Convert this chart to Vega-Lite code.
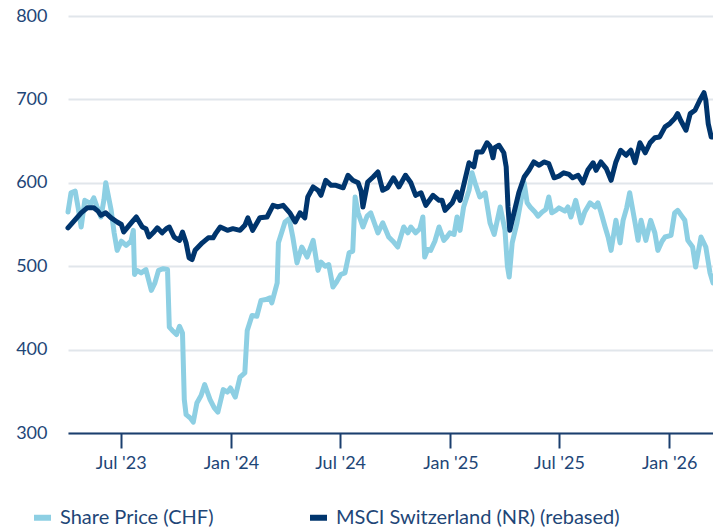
{
  "$schema": "https://vega.github.io/schema/vega-lite/v6.json",
  "width": 645,
  "height": 417,
  "autosize": {"type": "none"},
  "padding": {"left": 68, "top": 16, "right": 0, "bottom": 95},
  "background": "white",
  "config": {
    "view": {"stroke": null},
    "font": "Lato",
    "axis": {"labelFont": "Lato", "labelColor": "#1e4677", "labelFontSize": 18, "titleFont": "Lato"},
    "legend": {"labelFont": "Lato"}
  },
  "datasets": {
    "share": [
      {"d":"2023-04-04","v":565},{"d":"2023-04-09","v":588},{"d":"2023-04-16","v":590},{"d":"2023-04-21","v":570},
      {"d":"2023-04-26","v":547},{"d":"2023-05-02","v":579},{"d":"2023-05-12","v":575},{"d":"2023-05-17","v":582},
      {"d":"2023-05-22","v":572},{"d":"2023-05-29","v":559},{"d":"2023-06-03","v":580},{"d":"2023-06-06","v":600},
      {"d":"2023-06-15","v":567},{"d":"2023-06-20","v":540},{"d":"2023-06-25","v":519},{"d":"2023-07-02","v":530},
      {"d":"2023-07-10","v":525},{"d":"2023-07-18","v":530},{"d":"2023-07-22","v":543},{"d":"2023-07-24","v":490},
      {"d":"2023-07-28","v":495},{"d":"2023-08-04","v":492},{"d":"2023-08-12","v":496},{"d":"2023-08-21","v":471},
      {"d":"2023-08-27","v":480},{"d":"2023-09-02","v":495},{"d":"2023-09-10","v":497},{"d":"2023-09-17","v":496},
      {"d":"2023-09-20","v":427},{"d":"2023-09-25","v":423},{"d":"2023-10-02","v":418},{"d":"2023-10-07","v":428},
      {"d":"2023-10-12","v":420},{"d":"2023-10-15","v":340},{"d":"2023-10-18","v":322},{"d":"2023-10-25","v":318},
      {"d":"2023-10-30","v":313},{"d":"2023-11-05","v":336},{"d":"2023-11-12","v":345},{"d":"2023-11-18","v":358},
      {"d":"2023-11-27","v":340},{"d":"2023-12-04","v":330},{"d":"2023-12-10","v":325},{"d":"2023-12-19","v":352},
      {"d":"2023-12-26","v":349},{"d":"2023-12-31","v":354},{"d":"2024-01-08","v":343},{"d":"2024-01-16","v":367},
      {"d":"2024-01-24","v":372},{"d":"2024-01-28","v":423},{"d":"2024-02-05","v":441},{"d":"2024-02-13","v":440},
      {"d":"2024-02-20","v":459},{"d":"2024-02-28","v":460},{"d":"2024-03-06","v":462},{"d":"2024-03-09","v":456},
      {"d":"2024-03-18","v":480},{"d":"2024-03-20","v":528},{"d":"2024-03-31","v":553},{"d":"2024-04-07","v":557},
      {"d":"2024-04-13","v":535},{"d":"2024-04-20","v":504},{"d":"2024-04-28","v":523},{"d":"2024-05-07","v":511},
      {"d":"2024-05-17","v":531},{"d":"2024-05-25","v":495},{"d":"2024-05-30","v":505},{"d":"2024-06-06","v":500},
      {"d":"2024-06-12","v":502},{"d":"2024-06-19","v":475},{"d":"2024-06-24","v":480},{"d":"2024-07-02","v":490},
      {"d":"2024-07-09","v":492},{"d":"2024-07-16","v":516},{"d":"2024-07-22","v":518},{"d":"2024-07-26","v":583},
      {"d":"2024-07-31","v":564},{"d":"2024-08-08","v":547},{"d":"2024-08-15","v":560},{"d":"2024-08-21","v":564},
      {"d":"2024-08-28","v":550},{"d":"2024-09-02","v":540},{"d":"2024-09-10","v":552},{"d":"2024-09-20","v":535},
      {"d":"2024-09-27","v":530},{"d":"2024-10-05","v":523},{"d":"2024-10-15","v":547},{"d":"2024-10-22","v":540},
      {"d":"2024-10-27","v":547},{"d":"2024-11-04","v":540},{"d":"2024-11-11","v":545},{"d":"2024-11-16","v":559},
      {"d":"2024-11-19","v":511},{"d":"2024-11-24","v":520},{"d":"2024-11-29","v":519},{"d":"2024-12-06","v":530},
      {"d":"2024-12-13","v":547},{"d":"2024-12-21","v":531},{"d":"2024-12-26","v":535},{"d":"2024-12-31","v":540},
      {"d":"2025-01-07","v":538},{"d":"2025-01-12","v":559},{"d":"2025-01-17","v":543},{"d":"2025-01-23","v":571},
      {"d":"2025-02-01","v":591},{"d":"2025-02-06","v":612},{"d":"2025-02-11","v":600},{"d":"2025-02-19","v":583},
      {"d":"2025-02-28","v":588},{"d":"2025-03-08","v":552},{"d":"2025-03-15","v":538},{"d":"2025-03-25","v":571},
      {"d":"2025-04-02","v":543},{"d":"2025-04-06","v":500},{"d":"2025-04-09","v":487},{"d":"2025-04-14","v":528},
      {"d":"2025-04-22","v":552},{"d":"2025-04-29","v":580},{"d":"2025-05-04","v":600},{"d":"2025-05-09","v":576},
      {"d":"2025-05-14","v":571},{"d":"2025-05-22","v":565},{"d":"2025-05-27","v":560},{"d":"2025-06-03","v":565},
      {"d":"2025-06-09","v":568},{"d":"2025-06-14","v":583},{"d":"2025-06-19","v":564},{"d":"2025-06-26","v":567},
      {"d":"2025-07-01","v":570},{"d":"2025-07-11","v":566},{"d":"2025-07-16","v":571},{"d":"2025-07-21","v":559},
      {"d":"2025-07-29","v":579},{"d":"2025-08-07","v":552},{"d":"2025-08-13","v":565},{"d":"2025-08-22","v":576},
      {"d":"2025-08-30","v":571},{"d":"2025-09-04","v":576},{"d":"2025-09-09","v":565},{"d":"2025-09-16","v":547},
      {"d":"2025-09-21","v":535},{"d":"2025-09-26","v":519},{"d":"2025-10-04","v":555},{"d":"2025-10-11","v":528},
      {"d":"2025-10-16","v":555},{"d":"2025-10-22","v":570},{"d":"2025-10-27","v":588},{"d":"2025-11-05","v":552},
      {"d":"2025-11-10","v":531},{"d":"2025-11-15","v":555},{"d":"2025-11-23","v":531},{"d":"2025-12-01","v":555},
      {"d":"2025-12-08","v":540},{"d":"2025-12-13","v":519},{"d":"2025-12-20","v":530},{"d":"2025-12-25","v":535},
      {"d":"2026-01-04","v":537},{"d":"2026-01-10","v":564},{"d":"2026-01-15","v":567},{"d":"2026-01-22","v":560},
      {"d":"2026-01-27","v":555},{"d":"2026-02-01","v":531},{"d":"2026-02-09","v":523},{"d":"2026-02-14","v":499},
      {"d":"2026-02-23","v":535},{"d":"2026-03-03","v":523},{"d":"2026-03-10","v":492},{"d":"2026-03-15","v":480}
    ],
    "msci": [
      {"d":"2023-04-04","v":546},{"d":"2023-04-15","v":555},{"d":"2023-04-26","v":564},{"d":"2023-05-06","v":570},
      {"d":"2023-05-17","v":570},{"d":"2023-05-24","v":566},{"d":"2023-05-29","v":561},{"d":"2023-06-06","v":564},
      {"d":"2023-06-15","v":558},{"d":"2023-06-25","v":553},{"d":"2023-07-02","v":550},{"d":"2023-07-06","v":541},
      {"d":"2023-07-15","v":549},{"d":"2023-07-22","v":555},{"d":"2023-07-27","v":559},{"d":"2023-08-06","v":547},
      {"d":"2023-08-12","v":545},{"d":"2023-08-17","v":535},{"d":"2023-08-24","v":540},{"d":"2023-08-31","v":546},
      {"d":"2023-09-08","v":540},{"d":"2023-09-15","v":545},{"d":"2023-09-20","v":547},{"d":"2023-09-28","v":535},
      {"d":"2023-10-07","v":531},{"d":"2023-10-12","v":541},{"d":"2023-10-18","v":528},{"d":"2023-10-23","v":510},
      {"d":"2023-10-28","v":508},{"d":"2023-11-02","v":519},{"d":"2023-11-14","v":528},{"d":"2023-11-24","v":534},
      {"d":"2023-12-02","v":534},{"d":"2023-12-07","v":540},{"d":"2023-12-14","v":547},{"d":"2023-12-26","v":543},
      {"d":"2024-01-04","v":545},{"d":"2024-01-16","v":543},{"d":"2024-01-24","v":549},{"d":"2024-01-29","v":558},
      {"d":"2024-02-06","v":543},{"d":"2024-02-18","v":558},{"d":"2024-03-01","v":559},{"d":"2024-03-11","v":573},
      {"d":"2024-03-19","v":571},{"d":"2024-03-28","v":573},{"d":"2024-04-08","v":564},{"d":"2024-04-17","v":553},
      {"d":"2024-04-25","v":564},{"d":"2024-05-03","v":558},{"d":"2024-05-08","v":583},{"d":"2024-05-17","v":595},
      {"d":"2024-05-25","v":591},{"d":"2024-05-30","v":585},{"d":"2024-06-07","v":603},{"d":"2024-06-16","v":597},
      {"d":"2024-06-24","v":597},{"d":"2024-07-06","v":594},{"d":"2024-07-14","v":609},{"d":"2024-07-22","v":603},
      {"d":"2024-07-31","v":600},{"d":"2024-08-05","v":590},{"d":"2024-08-08","v":571},{"d":"2024-08-16","v":601},
      {"d":"2024-08-25","v":607},{"d":"2024-09-02","v":613},{"d":"2024-09-10","v":591},{"d":"2024-09-18","v":594},
      {"d":"2024-09-28","v":606},{"d":"2024-10-07","v":595},{"d":"2024-10-18","v":609},{"d":"2024-10-27","v":600},
      {"d":"2024-11-04","v":585},{"d":"2024-11-13","v":588},{"d":"2024-11-21","v":573},{"d":"2024-12-03","v":585},
      {"d":"2024-12-13","v":579},{"d":"2024-12-18","v":579},{"d":"2024-12-23","v":567},{"d":"2025-01-04","v":576},
      {"d":"2025-01-12","v":589},{"d":"2025-01-17","v":579},{"d":"2025-01-25","v":603},{"d":"2025-02-01","v":624},
      {"d":"2025-02-09","v":619},{"d":"2025-02-14","v":637},{"d":"2025-02-23","v":637},{"d":"2025-03-03","v":648},
      {"d":"2025-03-08","v":644},{"d":"2025-03-13","v":630},{"d":"2025-03-16","v":642},{"d":"2025-03-23","v":645},
      {"d":"2025-03-31","v":636},{"d":"2025-04-04","v":619},{"d":"2025-04-07","v":571},{"d":"2025-04-10","v":543},
      {"d":"2025-04-17","v":564},{"d":"2025-04-25","v":588},{"d":"2025-05-04","v":607},{"d":"2025-05-12","v":615},
      {"d":"2025-05-20","v":625},{"d":"2025-05-29","v":621},{"d":"2025-06-06","v":625},{"d":"2025-06-14","v":623},
      {"d":"2025-06-23","v":606},{"d":"2025-07-01","v":608},{"d":"2025-07-09","v":612},{"d":"2025-07-18","v":610},
      {"d":"2025-07-24","v":606},{"d":"2025-08-02","v":609},{"d":"2025-08-10","v":600},{"d":"2025-08-18","v":615},
      {"d":"2025-08-27","v":624},{"d":"2025-09-01","v":615},{"d":"2025-09-09","v":625},{"d":"2025-09-18","v":617},
      {"d":"2025-09-26","v":603},{"d":"2025-10-04","v":625},{"d":"2025-10-12","v":639},{"d":"2025-10-21","v":633},
      {"d":"2025-10-29","v":639},{"d":"2025-11-05","v":624},{"d":"2025-11-13","v":648},{"d":"2025-11-22","v":636},
      {"d":"2025-11-30","v":648},{"d":"2025-12-08","v":654},{"d":"2025-12-16","v":655},{"d":"2025-12-25","v":667},
      {"d":"2026-01-02","v":671},{"d":"2026-01-10","v":677},{"d":"2026-01-15","v":683},{"d":"2026-01-20","v":675},
      {"d":"2026-01-29","v":663},{"d":"2026-02-05","v":683},{"d":"2026-02-13","v":687},{"d":"2026-02-21","v":699},
      {"d":"2026-02-28","v":708},{"d":"2026-03-03","v":699},{"d":"2026-03-07","v":671},{"d":"2026-03-12","v":655},
      {"d":"2026-03-15","v":655}
    ]
  },
  "encoding": {
    "x": {
      "field": "d",
      "type": "temporal",
      "scale": {"type": "utc", "domain": [{"year": 2023, "month": 4, "date": 4, "utc": true}, {"year": 2026, "month": 3, "date": 15, "utc": true}]},
      "axis": {
        "title": null,
        "grid": false,
        "domainColor": "#1b3f6e",
        "domainWidth": 2,
        "tickColor": "#1b3f6e",
        "tickWidth": 2,
        "tickSize": 15,
        "labelPadding": 6,
        "values": [
          {"year": 2023, "month": 7, "date": 1, "utc": true},
          {"year": 2024, "month": 1, "date": 1, "utc": true},
          {"year": 2024, "month": 7, "date": 1, "utc": true},
          {"year": 2025, "month": 1, "date": 1, "utc": true},
          {"year": 2025, "month": 7, "date": 1, "utc": true},
          {"year": 2026, "month": 1, "date": 1, "utc": true}
        ],
        "labelExpr": "utcFormat(datum.value, \"%b '%y\")"
      }
    },
    "y": {
      "field": "v",
      "type": "quantitative",
      "scale": {"domain": [300, 800], "nice": false, "zero": false},
      "axis": {
        "title": null,
        "domain": false,
        "ticks": false,
        "values": [300, 400, 500, 600, 700, 800],
        "gridColor": "#e1e6eb",
        "gridWidth": 2,
        "labelPadding": 21
      }
    },
    "color": {
      "scale": {"domain": ["Share Price (CHF)", "MSCI Switzerland (NR) (rebased)"], "range": ["#8dcfe3", "#00356d"]},
      "legend": {
        "title": null,
        "orient": "none",
        "legendX": -37,
        "legendY": 490,
        "direction": "horizontal",
        "symbolType": "stroke",
        "symbolSize": 289,
        "symbolStrokeWidth": 6,
        "labelFontSize": 20,
        "labelColor": "#1e4677",
        "labelOffset": 6,
        "labelLimit": 0,
        "columnPadding": 84
      }
    }
  },
  "layer": [
    {
      "data": {"name": "share"},
      "mark": {"type": "line", "strokeWidth": 5, "strokeJoin": "round", "strokeCap": "round"},
      "encoding": {"color": {"datum": "Share Price (CHF)"}}
    },
    {
      "data": {"name": "msci"},
      "mark": {"type": "line", "strokeWidth": 5, "strokeJoin": "round", "strokeCap": "round"},
      "encoding": {"color": {"datum": "MSCI Switzerland (NR) (rebased)"}}
    }
  ]
}
